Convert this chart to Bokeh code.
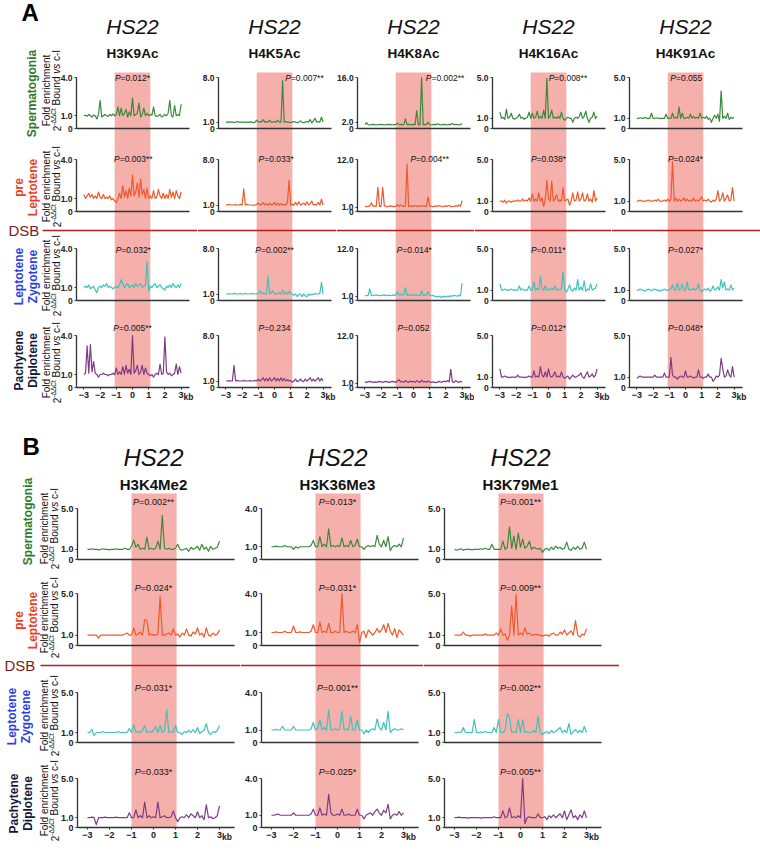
from math import pi
from bokeh.plotting import figure
from bokeh.layouts import row, column
from bokeh.models import Range1d, LinearAxis, FixedTicker, Label, Span
from bokeh.embed import file_html
from bokeh.resources import INLINE

FONT = "Liberation Sans"

# ---------------- data ----------------
KB = [-3.0, -2.9, -2.8, -2.7, -2.6, -2.5, -2.4, -2.3, -2.2, -2.1,
      -2.0, -1.9, -1.8, -1.7, -1.6, -1.5, -1.4, -1.3, -1.2, -1.1,
      -1.0, -0.9, -0.8, -0.7, -0.6, -0.5, -0.4, -0.3, -0.2, -0.1,
      0.0, 0.1, 0.2, 0.3, 0.4, 0.5, 0.6, 0.7, 0.8, 0.9,
      1.0, 1.1, 1.2, 1.3, 1.4, 1.5, 1.6, 1.7, 1.8, 1.9,
      2.0, 2.1, 2.2, 2.3, 2.4, 2.5, 2.6, 2.7, 2.8, 2.9,
      3.0]

STAGES = ["Spermatogonia", "pre\nLeptotene", "Leptotene\nZygotene", "Pachytene\nDiplotene"]
STAGE_COLORS = ["#2d7a2d", "#f03c24", "#2c3fe6", "#111838"]
LINE_COLORS = ["#3b8a3b", "#f0592a", "#3cc3bc", "#7d3d85"]

# Panel A  (rows: Spermatogonia, pre-Leptotene, Leptotene/Zygotene, Pachytene/Diplotene)
A_MARKS = ["H3K9Ac", "H4K5Ac", "H4K8Ac", "H4K16Ac", "H4K91Ac"]

A_H3K9AC = [
    [1.0, 1.05, 0.95, 1.1, 1.0, 0.9, 1.05, 1.0, 0.75, 1.1,
     2.2, 0.9, 1.0, 1.1, 1.0, 0.95, 1.1, 1.0, 1.15, 1.0,
     1.1, 1.7, 1.0, 1.6, 1.0, 1.2, 1.5, 0.9, 1.3, 1.0,
     2.4, 1.0, 1.1, 1.2, 2.0, 0.9, 1.1, 1.6, 1.0, 1.2,
     1.0, 1.1, 1.05, 1.7, 1.0, 0.95, 1.0, 1.1, 0.9, 1.0,
     1.1, 1.0, 1.2, 2.2, 1.0, 0.9, 1.8, 1.0, 1.1, 1.0,
     1.9],
    [1.3, 1.0, 1.2, 1.4, 1.1, 1.3, 1.0, 1.2, 1.0, 1.5,
     1.1, 1.0, 1.3, 1.0, 1.1, 1.0, 1.2, 0.9, 1.0, 0.8,
     0.7, 1.0, 1.4, 1.0, 2.0, 1.1, 1.6, 1.0, 1.8, 1.2,
     2.8, 1.2, 1.5, 2.2, 1.1, 2.5, 1.3, 1.7, 1.0, 1.8,
     1.0, 1.2, 1.0, 1.6, 1.0, 1.1, 1.7, 1.2, 1.0, 1.4,
     1.0, 1.3, 1.0, 1.7, 1.1, 1.5, 1.0, 1.6, 1.2, 1.0,
     1.5],
    [1.0, 1.1, 1.0, 1.2, 0.9, 1.0, 1.1, 0.8, 0.6, 1.0,
     1.1, 1.0, 1.2, 1.1, 1.3, 1.0, 1.1, 1.0, 0.9, 1.0,
     1.1, 1.0, 1.2, 1.6, 1.3, 1.0, 1.2, 1.3, 1.0, 1.1,
     1.2, 1.0, 1.3, 1.1, 1.2, 1.3, 1.0, 1.1, 1.2, 3.0,
     0.7, 1.1, 1.0, 1.2, 1.3, 1.0, 1.1, 1.2, 1.0, 0.9,
     0.8, 1.1, 1.0, 1.2, 1.0, 1.3, 1.1, 1.0, 1.2, 1.0,
     1.3],
    [1.0, 1.1, 3.2, 1.1, 3.3, 1.2, 2.0, 1.1, 1.0, 0.8,
     1.0, 1.0, 1.1, 1.0, 1.0, 0.9, 1.0, 1.0, 1.1, 1.0,
     1.5, 1.0, 1.2, 1.0, 1.6, 1.0, 1.7, 1.1, 1.4, 1.0,
     4.0, 1.1, 1.3, 1.7, 1.0, 1.2, 1.7, 1.0, 1.5, 1.1,
     1.0, 0.9, 1.0, 0.8, 1.0, 1.1, 1.0, 1.8, 1.0, 1.1,
     3.9, 1.2, 1.0, 1.1, 0.9, 1.0, 1.1, 1.8, 1.0, 1.6,
     1.1],
]

A_H4K5AC = [
    [1.0, 1.0, 1.05, 1.0, 1.0, 0.95, 1.0, 1.1, 1.0, 1.0,
     1.0, 1.0, 0.95, 1.0, 1.0, 1.05, 1.0, 0.9, 1.0, 1.3,
     1.0, 1.1, 1.0, 1.4, 1.0, 1.1, 1.0, 1.3, 1.0, 1.0,
     1.1, 1.0, 1.3, 1.0, 1.0, 7.5, 1.0, 1.1, 1.0, 1.0,
     0.9, 1.0, 1.1, 1.0, 0.9, 1.0, 1.2, 1.0, 0.9, 1.0,
     1.1, 1.0, 1.4, 0.9, 1.2, 1.6, 1.0, 1.1, 1.0, 1.8,
     1.0],
    [1.0, 1.0, 1.1, 1.0, 1.0, 1.0, 1.05, 1.0, 1.0, 1.1,
     1.0, 3.5, 1.0, 1.1, 1.0, 1.0, 1.0, 0.95, 1.0, 1.1,
     1.3, 1.0, 1.1, 1.4, 1.0, 1.2, 1.0, 1.3, 1.0, 1.1,
     1.4, 1.0, 1.3, 1.0, 1.2, 1.0, 1.1, 1.0, 1.4, 4.8,
     1.0, 1.1, 1.0, 1.4, 1.0, 1.5, 1.0, 1.1, 1.3, 1.0,
     1.5, 1.0, 1.2, 1.6, 1.0, 1.1, 1.0, 1.4, 1.0, 1.9,
     1.0],
    [1.0, 1.0, 1.05, 1.0, 1.0, 1.1, 1.0, 1.0, 1.0, 1.05,
     1.0, 1.0, 1.1, 1.0, 1.0, 1.0, 1.1, 1.0, 1.0, 1.0,
     1.1, 1.5, 1.0, 1.2, 1.0, 1.0, 3.7, 1.0, 1.2, 1.5,
     1.0, 1.1, 1.0, 1.2, 1.0, 1.6, 1.0, 1.3, 1.0, 1.4,
     1.0, 1.0, 0.8, 1.0, 0.6, 0.9, 1.0, 0.6, 1.0, 0.7,
     0.6, 1.0, 0.8, 1.0, 0.9, 1.1, 1.0, 1.0, 1.1, 2.8,
     1.0],
    [1.0, 1.0, 1.05, 1.0, 1.0, 3.4, 1.0, 1.1, 1.0, 1.0,
     1.0, 1.1, 1.0, 1.0, 1.0, 1.05, 1.0, 1.0, 1.1, 1.0,
     1.3, 1.0, 1.2, 1.5, 1.0, 1.4, 1.0, 1.5, 1.0, 1.2,
     1.5, 1.0, 1.4, 1.0, 1.5, 1.0, 1.4, 1.0, 1.2, 1.0,
     1.1, 0.8, 1.0, 1.3, 0.9, 1.0, 1.3, 1.0, 0.9, 1.3,
     1.0, 1.2, 1.5, 1.0, 1.3, 1.0, 1.2, 1.5, 1.0, 1.4,
     1.0],
]

A_H4K8AC = [
    [1.2, 1.8, 1.2, 1.1, 1.2, 1.3, 1.2, 1.1, 1.2, 1.2,
     1.3, 1.2, 1.1, 1.2, 1.2, 1.3, 1.2, 1.1, 1.2, 1.2,
     1.7, 1.2, 1.3, 1.2, 1.2, 3.0, 1.2, 1.3, 1.2, 1.2,
     1.3, 1.2, 5.6, 1.2, 1.1, 16.0, 1.2, 1.3, 1.2, 2.0,
     1.2, 1.1, 1.2, 1.3, 1.2, 1.5, 1.2, 1.1, 1.2, 1.3,
     1.2, 1.1, 1.3, 1.2, 1.6, 1.2, 1.3, 1.2, 1.1, 1.2,
     1.6],
    [1.2, 1.1, 1.2, 1.3, 2.0, 1.2, 1.3, 1.2, 5.6, 1.2,
     1.2, 5.6, 1.3, 1.2, 1.1, 1.2, 1.3, 1.2, 1.1, 1.2,
     1.6, 1.2, 1.5, 1.3, 1.2, 1.3, 11.0, 1.2, 1.2, 1.3,
     1.2, 1.4, 1.2, 1.3, 1.2, 1.4, 1.2, 1.3, 1.2, 3.3,
     1.3, 1.2, 1.1, 1.2, 1.3, 1.2, 1.4, 1.2, 1.1, 1.2,
     1.3, 1.2, 1.4, 1.2, 1.1, 1.2, 1.3, 1.2, 1.5, 1.2,
     2.5],
    [1.2, 1.1, 1.2, 2.7, 1.2, 1.1, 1.2, 1.3, 1.2, 1.1,
     1.2, 1.2, 1.3, 1.1, 1.2, 1.2, 1.1, 1.2, 1.3, 1.2,
     2.0, 1.3, 1.5, 1.2, 1.4, 3.0, 1.2, 1.3, 1.2, 1.2,
     1.4, 1.2, 1.3, 1.2, 1.1, 2.2, 1.2, 1.3, 1.2, 2.0,
     1.2, 1.1, 1.2, 1.0, 0.9, 0.8, 1.0, 0.7, 0.9, 1.0,
     0.8, 1.0, 0.9, 1.1, 1.0, 1.2, 1.1, 1.0, 1.2, 1.1,
     4.0],
    [1.3, 1.2, 1.3, 1.4, 1.3, 1.2, 1.3, 1.2, 1.3, 1.4,
     1.3, 1.2, 1.3, 1.4, 1.3, 1.2, 1.3, 1.4, 1.3, 1.2,
     1.5, 1.8, 1.3, 1.4, 1.2, 1.6, 1.3, 1.2, 1.5, 1.3,
     1.4, 1.2, 1.6, 1.3, 1.2, 1.7, 1.3, 1.4, 1.2, 1.5,
     1.3, 1.2, 1.3, 1.2, 1.1, 1.3, 1.4, 1.2, 1.3, 1.5,
     1.3, 1.6, 1.3, 4.2, 1.3, 1.2, 1.6, 1.3, 1.2, 1.4,
     1.3],
]

A_H4K16AC = [
    [1.6, 1.0, 1.1, 0.9, 1.9, 1.0, 1.1, 1.5, 1.0, 0.9,
     1.0, 1.1, 1.4, 1.0, 1.1, 0.9, 1.0, 1.1, 1.6, 1.0,
     1.5, 1.0, 1.1, 1.7, 1.0, 1.2, 1.0, 1.8, 1.0, 4.9,
     1.0, 1.2, 1.8, 1.0, 1.1, 1.0, 1.2, 1.0, 1.6, 1.0,
     0.8, 1.0, 1.1, 1.0, 1.0, 0.6, 1.0, 1.1, 1.0, 1.2,
     1.6, 1.0, 1.2, 1.7, 1.0, 0.6, 1.0, 1.1, 1.6, 1.0,
     1.2],
    [1.0, 1.0, 0.9, 1.1, 0.8, 1.0, 1.0, 0.9, 1.0, 1.0,
     1.0, 1.1, 1.0, 1.0, 1.2, 1.0, 1.1, 1.0, 1.3, 1.0,
     1.7, 1.0, 1.2, 1.0, 1.8, 1.0, 1.3, 0.5, 1.2, 3.0,
     1.2, 1.0, 2.9, 1.0, 1.2, 1.6, 1.0, 1.1, 1.0, 2.3,
     1.0, 1.1, 1.2, 0.6, 1.0, 1.8, 1.0, 1.1, 1.9, 1.0,
     1.2, 1.8, 1.0, 1.1, 1.7, 1.0, 1.2, 0.9, 2.0, 1.0,
     1.3],
    [1.6, 1.0, 1.0, 1.1, 1.0, 1.0, 1.0, 1.1, 1.0, 1.0,
     1.0, 1.0, 1.4, 1.0, 1.1, 1.0, 1.0, 1.0, 1.4, 1.0,
     1.0, 1.8, 1.0, 1.2, 1.0, 2.3, 1.1, 1.0, 1.4, 1.0,
     1.1, 1.0, 1.2, 1.0, 1.4, 1.0, 1.1, 1.0, 1.2, 2.7,
     1.0, 0.8, 1.1, 1.5, 1.0, 0.9, 1.2, 1.0, 2.0, 1.0,
     1.3, 1.0, 1.9, 0.9, 1.1, 1.0, 1.6, 1.0, 1.1, 1.2,
     1.6],
    [1.8, 1.0, 1.0, 1.1, 1.0, 1.0, 0.95, 1.0, 1.0, 1.0,
     1.0, 1.2, 1.0, 1.0, 1.0, 0.95, 1.0, 1.0, 1.1, 1.0,
     1.0, 1.6, 1.0, 1.1, 1.0, 2.0, 1.2, 1.0, 1.5, 1.0,
     1.8, 1.1, 1.0, 1.2, 1.5, 1.0, 1.1, 1.0, 1.5, 1.0,
     0.9, 1.0, 1.1, 0.8, 1.0, 1.2, 1.0, 1.0, 1.1, 1.2,
     1.4, 1.0, 0.9, 1.2, 1.5, 1.0, 1.1, 1.3, 1.0, 1.2,
     1.8],
]

A_H4K91AC = [
    [1.0, 1.0, 1.05, 1.0, 1.0, 1.1, 1.0, 1.0, 1.0, 1.5,
     1.0, 1.0, 1.05, 1.0, 1.0, 1.0, 1.0, 1.0, 1.4, 1.0,
     1.0, 1.0, 1.5, 1.0, 1.1, 1.0, 2.1, 1.0, 1.5, 1.0,
     1.0, 1.1, 1.0, 1.4, 1.0, 1.2, 1.0, 1.1, 1.0, 1.5,
     1.0, 1.1, 1.0, 1.2, 0.9, 1.0, 0.6, 1.0, 1.3, 1.0,
     1.4, 0.7, 3.7, 1.0, 1.2, 1.0, 1.5, 0.9, 1.1, 1.0,
     1.1],
    [1.0, 1.0, 1.1, 1.0, 1.0, 1.0, 1.0, 1.1, 1.0, 1.0,
     1.0, 1.1, 1.0, 1.2, 1.0, 1.0, 1.0, 1.1, 1.0, 1.2,
     1.0, 1.2, 4.8, 1.0, 1.3, 1.0, 1.2, 1.0, 1.1, 1.3,
     1.0, 1.2, 1.0, 1.1, 1.0, 1.3, 1.0, 1.1, 1.0, 1.2,
     1.4, 1.0, 1.1, 1.0, 1.2, 1.0, 0.9, 1.1, 1.0, 1.2,
     2.0, 1.0, 1.2, 1.8, 1.0, 1.3, 1.6, 1.0, 1.1, 2.3,
     1.0],
    [1.0, 1.0, 1.1, 1.0, 1.0, 0.9, 1.0, 1.1, 1.0, 1.0,
     1.0, 1.1, 1.0, 1.0, 0.9, 1.0, 1.0, 1.1, 1.0, 1.0,
     1.0, 1.1, 1.5, 1.0, 1.0, 1.7, 1.0, 1.1, 1.6, 1.0,
     1.0, 1.8, 1.0, 1.1, 1.0, 1.2, 1.0, 1.1, 1.6, 1.0,
     0.8, 1.0, 1.1, 1.0, 1.2, 0.9, 1.0, 1.4, 1.0, 1.1,
     1.3, 1.0, 2.0, 1.2, 1.8, 1.0, 1.1, 1.0, 1.5, 1.0,
     1.2],
    [0.9, 1.0, 1.1, 1.0, 1.0, 1.0, 1.0, 1.0, 1.0, 1.0,
     1.0, 1.2, 1.0, 1.0, 1.0, 1.0, 1.0, 1.4, 1.0, 1.0,
     1.0, 2.9, 1.2, 1.0, 1.0, 0.8, 1.0, 1.1, 1.0, 1.0,
     1.6, 1.0, 1.0, 1.1, 1.0, 0.9, 1.0, 1.0, 1.7, 1.0,
     1.0, 0.9, 1.0, 1.0, 1.3, 1.0, 1.0, 0.6, 0.8, 1.1,
     1.0, 1.2, 2.8, 1.8, 1.0, 1.1, 1.7, 1.2, 1.0, 2.0,
     1.0],
]

A_YMAX = [[4, 4, 4, 4], [8, 8, 8, 8], [16, 12, 12, 12], [5, 5, 5, 5], [5, 5, 5, 5]]
A_YMID = [[1, 1, 1, 1], [1, 1, 1, 1], [2, 1, 1, 1], [1, 1, 1, 1], [1, 1, 1, 1]]
A_PVALS = [
    ["0.012*", "0.007**", "0.002**", "0.008**", "0.055"],
    ["0.003**", "0.033*", "0.004**", "0.038*", "0.024*"],
    ["0.032*", "0.002**", "0.014*", "0.011*", "0.027*"],
    ["0.005**", "0.234", "0.052", "0.012*", "0.048*"],
]

# Panel B
B_MARKS = ["H3K4Me2", "H3K36Me3", "H3K79Me1"]

B_H3K4ME2 = [
    [1.0, 1.0, 1.05, 1.0, 1.0, 0.95, 1.0, 1.05, 1.0, 1.0,
     0.95, 1.0, 1.0, 1.05, 1.0, 1.0, 1.0, 1.1, 1.0, 1.0,
     1.3, 1.9, 1.2, 1.5, 1.0, 1.1, 1.0, 2.2, 1.0, 1.1,
     1.0, 1.1, 1.8, 1.0, 4.3, 1.1, 1.0, 1.1, 1.0, 1.0,
     1.1, 1.5, 1.0, 0.9, 1.0, 1.1, 0.8, 1.2, 1.0, 1.1,
     1.3, 0.9, 1.5, 1.0, 1.2, 0.8, 1.3, 1.0, 1.1, 1.2,
     1.8],
    [1.0, 1.0, 1.0, 1.0, 1.0, 0.7, 1.0, 1.0, 1.0, 1.0,
     1.0, 1.0, 1.0, 1.0, 1.0, 1.0, 1.0, 1.1, 1.2, 1.0,
     1.0, 1.7, 1.0, 1.1, 1.3, 1.0, 2.5, 2.4, 1.0, 1.1,
     1.0, 1.0, 1.1, 4.7, 1.0, 1.0, 1.1, 1.2, 1.0, 1.6,
     1.0, 1.1, 0.8, 1.2, 1.0, 1.6, 1.0, 0.9, 1.3, 1.1,
     1.7, 1.0, 1.2, 0.8, 1.7, 1.0, 0.9, 1.2, 1.0, 1.1,
     1.5],
    [1.0, 1.0, 1.3, 0.7, 1.0, 1.0, 1.0, 1.1, 1.0, 1.0,
     1.0, 1.0, 1.0, 1.0, 1.1, 1.0, 1.0, 1.0, 1.0, 1.4,
     1.0, 1.8, 1.0, 1.1, 1.0, 1.2, 1.7, 1.0, 1.1, 1.0,
     1.2, 1.6, 1.0, 1.7, 1.0, 1.2, 3.3, 1.0, 1.1, 1.0,
     1.7, 1.0, 1.0, 0.8, 1.1, 1.0, 1.2, 1.0, 1.3, 1.0,
     1.5, 0.9, 1.1, 1.2, 1.9, 1.0, 0.8, 1.1, 1.0, 1.2,
     1.7],
    [1.0, 1.0, 1.05, 1.0, 0.3, 1.0, 1.0, 1.0, 1.05, 1.0,
     1.0, 1.0, 1.0, 1.05, 1.0, 1.0, 1.0, 1.0, 1.0, 1.5,
     1.0, 1.0, 1.8, 1.0, 1.2, 1.0, 2.6, 1.0, 1.2, 1.0,
     1.1, 1.0, 2.6, 1.0, 1.1, 1.2, 1.0, 1.0, 1.1, 1.7,
     1.0, 0.6, 1.0, 1.1, 1.0, 1.3, 1.0, 1.4, 1.2, 1.0,
     1.6, 1.0, 1.2, 0.8, 2.3, 1.0, 1.1, 0.9, 1.0, 1.2,
     2.2],
]

B_H3K36ME3 = [
    [1.0, 1.0, 1.05, 1.0, 1.0, 1.0, 1.1, 1.0, 1.0, 1.0,
     0.8, 1.0, 0.9, 1.0, 1.0, 1.0, 1.0, 1.0, 1.1, 1.5,
     1.0, 1.0, 1.8, 1.0, 1.2, 1.0, 2.4, 1.0, 1.1, 1.0,
     1.1, 1.0, 1.7, 1.0, 1.1, 1.0, 1.5, 1.0, 1.1, 1.6,
     1.0, 1.0, 0.8, 1.0, 1.1, 1.0, 1.1, 1.0, 1.9, 1.2,
     1.0, 1.5, 1.0, 1.8, 0.7, 1.0, 1.1, 1.0, 1.2, 1.0,
     1.7],
    [1.0, 1.0, 1.05, 1.0, 1.0, 1.0, 1.1, 1.0, 1.0, 1.0,
     1.5, 1.0, 1.0, 1.05, 1.0, 1.0, 1.0, 1.0, 1.1, 1.6,
     1.0, 1.0, 1.8, 1.0, 1.1, 1.0, 1.7, 1.0, 1.0, 1.1,
     1.0, 1.0, 4.0, 1.0, 1.1, 1.0, 1.0, 1.1, 1.0, 1.6,
     0.2, 1.0, 1.1, 0.6, 1.2, 1.0, 0.8, 1.0, 1.3, 1.0,
     1.2, 1.6, 1.0, 1.7, 1.1, 0.8, 1.3, 0.6, 1.2, 1.0,
     0.8],
    [1.0, 1.0, 1.05, 1.0, 1.0, 1.3, 1.0, 1.0, 1.0, 1.0,
     1.3, 1.0, 1.0, 1.0, 1.0, 1.0, 1.0, 1.0, 1.1, 1.6,
     1.0, 1.1, 1.8, 1.0, 1.2, 1.0, 2.6, 1.0, 1.0, 1.1,
     1.0, 1.1, 2.5, 1.0, 1.1, 1.0, 2.1, 1.0, 1.0, 1.8,
     1.0, 1.0, 0.7, 1.0, 0.8, 1.0, 1.1, 1.0, 1.9, 1.2,
     1.0, 1.6, 1.0, 2.5, 0.8, 1.0, 1.1, 1.0, 1.0, 1.1,
     1.0],
    [1.0, 1.0, 1.05, 1.1, 1.0, 1.0, 1.0, 1.0, 1.0, 1.0,
     1.2, 1.0, 1.0, 1.0, 1.0, 1.0, 1.0, 1.0, 1.1, 1.5,
     1.0, 1.0, 1.6, 1.0, 1.1, 1.0, 2.7, 1.2, 1.0, 1.0,
     1.1, 1.0, 1.5, 1.0, 1.0, 1.1, 1.0, 1.0, 1.0, 1.5,
     1.0, 1.0, 0.7, 1.0, 1.1, 1.2, 1.0, 1.3, 1.5, 1.2,
     1.0, 1.4, 1.2, 1.9, 0.7, 1.0, 1.1, 1.0, 1.3, 1.0,
     1.2],
]

B_H3K79ME1 = [
    [1.0, 0.9, 1.0, 1.05, 0.9, 1.0, 1.0, 1.0, 0.95, 1.0,
     1.0, 1.0, 1.05, 1.0, 1.1, 1.0, 1.0, 1.5, 1.0, 1.0,
     1.0, 1.0, 1.8, 1.0, 1.2, 3.2, 1.1, 2.3, 1.0, 2.6,
     1.2, 2.0, 1.1, 1.3, 1.8, 1.0, 1.2, 1.1, 1.0, 1.1,
     0.7, 1.0, 1.1, 0.9, 1.2, 1.0, 1.3, 1.1, 1.2, 1.0,
     1.1, 1.7, 1.0, 0.9, 1.2, 1.0, 1.3, 1.0, 1.1, 1.7,
     1.0],
    [1.0, 1.0, 1.0, 1.0, 1.3, 1.0, 1.0, 0.9, 1.0, 1.0,
     1.0, 1.0, 1.0, 1.0, 1.1, 1.0, 1.0, 1.0, 1.0, 1.2,
     1.0, 1.6, 1.0, 1.1, 0.5, 1.0, 3.8, 1.0, 4.9, 1.0,
     1.2, 1.0, 1.7, 1.1, 1.2, 1.0, 1.0, 1.1, 1.0, 1.0,
     0.9, 1.0, 1.0, 0.9, 1.1, 1.2, 1.0, 1.0, 1.3, 1.1,
     1.5, 1.0, 1.2, 1.4, 1.0, 2.4, 1.0, 0.8, 1.1, 1.0,
     1.6],
    [1.0, 1.0, 1.05, 1.0, 1.5, 1.0, 1.0, 1.0, 1.0, 2.3,
     1.0, 1.0, 1.05, 1.0, 1.1, 1.0, 1.0, 1.0, 1.5, 1.0,
     2.3, 1.0, 1.0, 1.2, 2.9, 2.5, 1.0, 1.1, 1.0, 2.3,
     1.0, 2.3, 1.0, 1.1, 1.0, 1.0, 1.2, 1.0, 2.6, 1.0,
     0.8, 1.0, 1.1, 0.9, 1.2, 1.0, 1.1, 1.3, 1.5, 1.0,
     1.2, 1.0, 1.9, 0.8, 1.1, 1.3, 1.0, 1.2, 1.0, 1.6,
     1.0],
    [1.0, 1.0, 1.05, 1.0, 1.0, 1.0, 0.95, 1.0, 1.0, 1.0,
     1.0, 1.0, 0.95, 1.0, 1.0, 1.0, 1.0, 1.0, 1.1, 1.0,
     1.0, 1.0, 1.7, 1.0, 1.1, 2.0, 1.0, 1.1, 1.0, 1.2,
     1.0, 5.0, 0.4, 1.0, 1.1, 1.0, 1.0, 1.0, 1.4, 1.0,
     1.0, 1.1, 0.8, 1.2, 1.0, 1.3, 1.0, 1.2, 1.4, 1.0,
     1.7, 0.8, 1.3, 1.8, 1.0, 1.2, 0.8, 1.3, 1.0, 1.7,
     1.0],
]

B_YMAX = [[5, 5, 5, 5], [4, 4, 4, 4], [5, 5, 5, 5]]
B_YMID = [[1, 1, 1, 1], [1, 1, 1, 1], [1, 1, 1, 1]]
B_PVALS = [
    ["0.002**", "0.013*", "0.001**"],
    ["0.024*", "0.031*", "0.009**"],
    ["0.031*", "0.001**", "0.002**"],
    ["0.033*", "0.025*", "0.005**"],
]

X_TICKS = [-3, -2, -1, 0, 1, 2, 3]

# ---------------- layout / style (page pixel positions) ----------------
A_LAY = dict(top=0, bottom=405, T=[77, 159, 248, 335], A=[128, 211, 300, 387],
             k=16.2, zeros=[132, 274, 413, 548, 685], edges=[0, 197, 336, 474, 611, 760],
             xaxis=(-3.45, 3.5), band_x=(-1.1, 1.1), band_y=(72, 387), dsb=230,
             dsb_text_x=8, dsb_x0=42, hs_y=26, hs_size=21, sub_y=53, sub_size=13.5,
             p_y=[77, 158, 249, 327], p_size=8.5,
             p_x=[[0, 1.85, 1.95, 1.2, 0.05], [0.05, 0.1, 1.0, 0, 0], [0.05, 0, 0.05, 0, 0], [0, 0, 0, 0, 0]],
             letter=("A", 21, 12), stage_xy=[(31, 93), (25, 187), (25, 276), (25, 360)],
             ylab_x=(46, 56), ylab_y=[90, 186, 275, 362], tick_size=8.5)
B_LAY = dict(top=405, bottom=848, T=[508, 593, 692, 778], A=[559, 645, 742, 827],
             k=22.0, zeros=[153, 337, 520], edges=[0, 240, 423, 619],
             xaxis=(-3.45, 3.7), band_x=(-1.0, 1.05), band_y=(493, 827), dsb=665,
             dsb_text_x=4, dsb_x0=40, hs_y=457, hs_size=24, sub_y=484, sub_size=15,
             p_y=[501, 587, 687, 771], p_size=9,
             p_x=[[0, 0, 0], [0, 0, 0], [0, 0, 0], [0, 0, 0]],
             letter=("B", 22, 446), stage_xy=[(27, 521), (25, 620), (18, 716), (20, 803)],
             ylab_x=(44, 54), ylab_y=[528, 617, 715, 800], tick_size=9)

BAND_COLOR = "#f6b0ac"
AX_COL = "#333333"
DSB_LINE = "#b51f1f"
DSB_TEXT = "#7a1c1c"

CW = {'.': .278, '=': .584, '*': .389, '-': .333, ' ': .278, 'P': .667, 'B': .667,
      'o': .556, 'u': .556, 'n': .556, 'd': .556, 'v': .5, 's': .5, 'c': .5,
      'I': .278, 'C': .722, 't': .278, '\u0394': .668}


def tw(s, size):
    return sum(CW.get(ch, .556) for ch in s) * size


def style_axis(ax, size):
    ax.axis_line_color = AX_COL
    ax.axis_line_width = 1.3
    ax.major_tick_line_color = AX_COL
    ax.major_tick_line_width = 1.1
    ax.major_tick_in = 0
    ax.major_tick_out = 2
    ax.minor_tick_line_color = None
    ax.major_label_standoff = 2
    ax.major_label_text_font = FONT
    ax.major_label_text_font_style = "bold"
    ax.major_label_text_font_size = f"{size}px"
    ax.major_label_text_color = "#222222"


def txt(p, x, y, text, size, style="normal", color="#111111", align="center",
        baseline="middle", angle=0.0, xr="default", x_offset=0, lh=1.0):
    p.add_layout(Label(x=x, y=y, text=text, x_range_name=xr, text_font=FONT,
                       text_font_size=f"{size}px", text_font_style=style,
                       text_color=color, text_align=align, text_baseline=baseline,
                       angle=angle, x_offset=x_offset, text_line_height=lh))


def ylabel(p, L, r):
    size = 10
    x1, x2 = L["ylab_x"]
    yc = L["ylab_y"][r]
    txt(p, x1, yc, "Fold enrichment", size, angle=pi / 2, xr="px")
    sup = size * 0.65
    segs = [("2", size, "normal", 0), ("-\u0394\u0394Ct", sup, "normal", -3),
            ("Bound", size, "normal", 0), ("vs", size, "italic", 0), ("c-I", size, "normal", 0)]
    gap = 0.278 * size
    widths = [tw(s, sz) for s, sz, _, _ in segs]
    total = sum(widths) + gap * 3
    y = yc + total / 2
    for i, (s, sz, st, dx) in enumerate(segs):
        txt(p, x2 + dx, y, s, sz, style=st, align="left", angle=pi / 2, xr="px")
        y -= widths[i]
        if i >= 1:
            y -= gap


def build_panel(L, marks, data, ymax, ymid, pvals):
    figs = []
    for c in range(len(marks)):
        left, right = L["edges"][c], L["edges"][c + 1]
        z, k = L["zeros"][c], L["k"]
        p = figure(width=right - left, height=L["bottom"] - L["top"],
                   x_range=Range1d((left - z) / k, (right - z) / k),
                   y_range=Range1d(L["bottom"], L["top"]),
                   x_axis_location=None, y_axis_location=None,
                   toolbar_location=None, output_backend="svg",
                   min_border=0, outline_line_color=None)
        p.min_border_left = p.min_border_right = 0
        p.min_border_top = p.min_border_bottom = 0
        p.xgrid.visible = False
        p.ygrid.visible = False
        p.extra_x_ranges = {"px": Range1d(left, right)}
        extra = {}
        for r in range(4):
            s = (L["A"][r] - L["T"][r]) / ymax[c][r]
            extra[f"r{r}"] = Range1d(-(L["bottom"] - L["A"][r]) / s, (L["A"][r] - L["top"]) / s)
        p.extra_y_ranges = extra

        # shaded -1..1 kb region
        p.quad(left=[L["band_x"][0]], right=[L["band_x"][1]],
               bottom=[L["band_y"][1]], top=[L["band_y"][0]],
               fill_color=BAND_COLOR, line_color=None)

        for r in range(4):
            p.line(KB, data[c][r], y_range_name=f"r{r}", line_color=LINE_COLORS[r],
                   line_width=1.2, line_join="round")

        for r in range(4):
            M, mid = ymax[c][r], ymid[c][r]
            ya = LinearAxis(y_range_name=f"r{r}", fixed_location=L["xaxis"][0],
                            bounds=(0, M), ticker=FixedTicker(ticks=[0, mid, M]),
                            major_label_overrides={0: "0", mid: f"{mid:.1f}", M: f"{M:.1f}"})
            style_axis(ya, L["tick_size"])
            p.add_layout(ya, "left")
            xa = LinearAxis(y_range_name=f"r{r}", fixed_location=0, bounds=L["xaxis"],
                            ticker=FixedTicker(ticks=X_TICKS if r == 3 else []))
            style_axis(xa, 9)
            p.add_layout(xa, "below")

            # P-value text, italic P
            fs = L["p_size"]
            rest = "=" + pvals[r][c]
            wP, wR = tw("P", fs), tw(rest, fs)
            cx, cy = L["p_x"][r][c], L["p_y"][r]
            txt(p, cx, cy, "P", fs, style="italic", align="left", x_offset=-(wP + wR) / 2)
            txt(p, cx, cy, rest, fs, align="left", x_offset=-(wP + wR) / 2 + wP)

        txt(p, 3, L["A"][3] + 9, "kb", 8.5, style="bold", align="left", x_offset=2.5, color="#222222")
        txt(p, 0, L["hs_y"], "HS22", L["hs_size"], style="italic")
        txt(p, 0, L["sub_y"], marks[c], L["sub_size"], style="bold")

        if c == 0:
            p.segment(x0=[L["dsb_x0"]], x1=[right], y0=[L["dsb"]], y1=[L["dsb"]],
                      x_range_name="px", line_color=DSB_LINE, line_width=1.6)
            txt(p, L["dsb_text_x"], L["dsb"], "DSB", 15, color=DSB_TEXT, align="left", xr="px")
            letter, lx, ly = L["letter"]
            txt(p, lx, ly, letter, 24, style="bold", align="left", xr="px", color="#000000")
            for r in range(4):
                sx, sy = L["stage_xy"][r]
                txt(p, sx, sy, STAGES[r], 12, style="bold", color=STAGE_COLORS[r],
                    angle=pi / 2, xr="px", lh=1.0)
                ylabel(p, L, r)
        else:
            p.add_layout(Span(location=L["dsb"], dimension="width",
                              line_color=DSB_LINE, line_width=1.6))
        figs.append(p)
    return figs


A_DATA = [A_H3K9AC, A_H4K5AC, A_H4K8AC, A_H4K16AC, A_H4K91AC]
B_DATA = [B_H3K4ME2, B_H3K36ME3, B_H3K79ME1]
for series_set in A_DATA + B_DATA:
    for s in series_set:
        assert len(s) == len(KB), len(s)

figs_a = build_panel(A_LAY, A_MARKS, A_DATA, A_YMAX, A_YMID, A_PVALS)
figs_b = build_panel(B_LAY, B_MARKS, B_DATA, B_YMAX, B_YMID, B_PVALS)

layout = column(row(*figs_a, spacing=0), row(*figs_b, spacing=0), spacing=0)

with open("out.html", "w") as f:
    f.write(file_html(layout, INLINE, title="HS22 histone marks"))
